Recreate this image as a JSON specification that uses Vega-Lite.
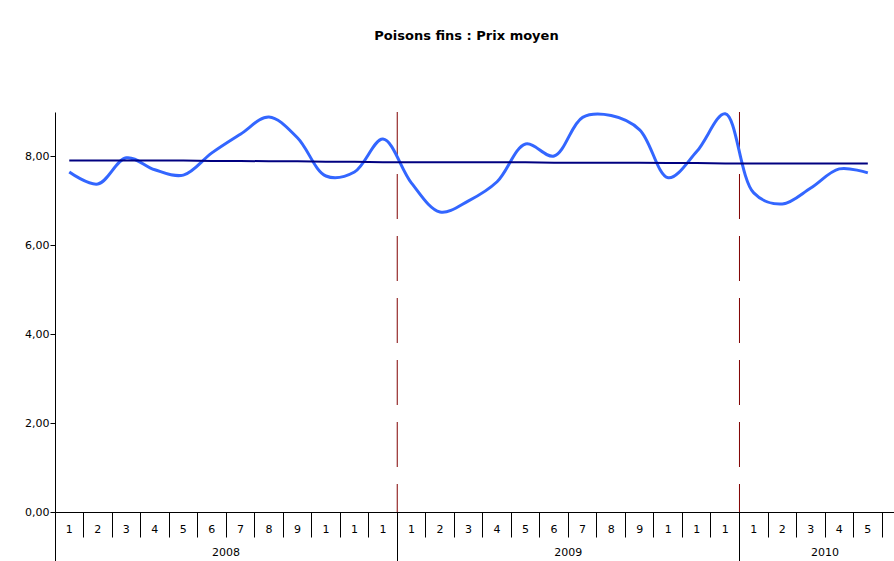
{
  "$schema": "https://vega.github.io/schema/vega-lite/v6.json",
  "width": 839,
  "height": 400,
  "autosize": {"type": "none"},
  "padding": {"left": 55, "top": 112, "right": 0, "bottom": 49},
  "background": "white",
  "title": {"text": "Poisons fins : Prix moyen", "fontSize": 13, "font": "DejaVu Sans", "fontWeight": "bold", "color": "#000000", "offset": 65, "dx": -8, "anchor": "middle"},
  "config": {
    "view": {"stroke": null},
    "axis": {"labelFont": "DejaVu Sans", "labelFontSize": 11, "labelColor": "#000000", "domainColor": "#000000", "tickColor": "#000000", "grid": false, "title": null}
  },
  "datasets": {
    "prices": [
      {"m": "2008-1", "price": 7.65, "trend": 7.91},
      {"m": "2008-2", "price": 7.38, "trend": 7.91},
      {"m": "2008-3", "price": 7.97, "trend": 7.91},
      {"m": "2008-4", "price": 7.70, "trend": 7.91},
      {"m": "2008-5", "price": 7.58, "trend": 7.91},
      {"m": "2008-6", "price": 8.08, "trend": 7.90},
      {"m": "2008-7", "price": 8.50, "trend": 7.90},
      {"m": "2008-8", "price": 8.89, "trend": 7.89},
      {"m": "2008-9", "price": 8.42, "trend": 7.89},
      {"m": "2008-10", "price": 7.56, "trend": 7.88},
      {"m": "2008-11", "price": 7.65, "trend": 7.88},
      {"m": "2008-12", "price": 8.39, "trend": 7.87},
      {"m": "2009-1", "price": 7.40, "trend": 7.87},
      {"m": "2009-2", "price": 6.75, "trend": 7.87},
      {"m": "2009-3", "price": 7.00, "trend": 7.87},
      {"m": "2009-4", "price": 7.43, "trend": 7.87},
      {"m": "2009-5", "price": 8.28, "trend": 7.87},
      {"m": "2009-6", "price": 8.01, "trend": 7.86},
      {"m": "2009-7", "price": 8.88, "trend": 7.86},
      {"m": "2009-8", "price": 8.92, "trend": 7.86},
      {"m": "2009-9", "price": 8.60, "trend": 7.86},
      {"m": "2009-10", "price": 7.52, "trend": 7.85},
      {"m": "2009-11", "price": 8.11, "trend": 7.85},
      {"m": "2009-12", "price": 8.96, "trend": 7.84},
      {"m": "2010-1", "price": 7.18, "trend": 7.84},
      {"m": "2010-2", "price": 6.93, "trend": 7.84},
      {"m": "2010-3", "price": 7.29, "trend": 7.84},
      {"m": "2010-4", "price": 7.72, "trend": 7.84},
      {"m": "2010-5", "price": 7.63, "trend": 7.84}
    ],
    "years": [{"m": "2009-1"}, {"m": "2010-1"}]
  },
  "layer": [
    {
      "data": {"name": "years"},
      "mark": {"type": "rule", "color": "#800000", "strokeWidth": 1, "strokeDash": [45, 17]},
      "encoding": {
        "x": {
          "field": "m", "type": "ordinal", "bandPosition": 0,
          "scale": {"type": "band", "domain": ["2008-1","2008-2","2008-3","2008-4","2008-5","2008-6","2008-7","2008-8","2008-9","2008-10","2008-11","2008-12","2009-1","2009-2","2009-3","2009-4","2009-5","2009-6","2009-7","2009-8","2009-9","2009-10","2009-11","2009-12","2010-1","2010-2","2010-3","2010-4","2010-5","2010-6"], "range": [0, 855.6], "paddingInner": 0, "paddingOuter": 0},
          "axis": {"orient": "bottom", "values": ["2008-1", "2009-1", "2010-1"], "bandPosition": 0, "tickSize": 50, "labels": false, "domain": false, "ticks": true, "tickColor": "#000000"}
        },
        "y": {"datum": 9, "type": "quantitative", "scale": {"domain": [0, 9], "nice": false, "zero": true},
          "axis": {"values": [0, 2, 4, 6, 8], "tickSize": 5, "labelPadding": 1, "labelExpr": "replace(format(datum.value, '.2f'), '.', ',')"}},
        "y2": {"datum": 0}
      }
    },
    {
      "data": {"name": "prices"},
      "mark": {"type": "line", "color": "#3366FF", "strokeWidth": 3, "interpolate": "catmull-rom"},
      "encoding": {
        "x": {
          "field": "m", "type": "ordinal", "bandPosition": 0.5,
          "scale": {"type": "band", "domain": ["2008-1","2008-2","2008-3","2008-4","2008-5","2008-6","2008-7","2008-8","2008-9","2008-10","2008-11","2008-12","2009-1","2009-2","2009-3","2009-4","2009-5","2009-6","2009-7","2009-8","2009-9","2009-10","2009-11","2009-12","2010-1","2010-2","2010-3","2010-4","2010-5","2010-6"], "range": [0, 855.6], "paddingInner": 0, "paddingOuter": 0},
          "axis": {"orient": "bottom", "bandPosition": 0, "tickSize": 25, "labelPadding": -14, "labelAngle": 0, "labelAlign": "center", "labelBaseline": "top", "labelExpr": "datum.value == '2010-6' ? '' : substring(split(datum.value, '-')[1], 0, 1)", "domain": true}
        },
        "y": {"field": "price", "type": "quantitative", "scale": {"domain": [0, 9], "nice": false, "zero": true},
          "axis": {"values": [0, 2, 4, 6, 8], "tickSize": 5, "labelPadding": 1, "labelExpr": "replace(format(datum.value, '.2f'), '.', ',')"}}
      }
    },
    {
      "data": {"name": "prices"},
      "mark": {"type": "line", "color": "#000080", "strokeWidth": 2},
      "encoding": {
        "x": {
          "field": "m", "type": "ordinal", "bandPosition": 0.5,
          "scale": {"type": "band", "domain": ["2008-1","2008-2","2008-3","2008-4","2008-5","2008-6","2008-7","2008-8","2008-9","2008-10","2008-11","2008-12","2009-1","2009-2","2009-3","2009-4","2009-5","2009-6","2009-7","2009-8","2009-9","2009-10","2009-11","2009-12","2010-1","2010-2","2010-3","2010-4","2010-5","2010-6"], "range": [0, 855.6], "paddingInner": 0, "paddingOuter": 0},
          "axis": {"orient": "bottom", "values": ["2008-7", "2009-7", "2010-4"], "bandPosition": 0, "ticks": false, "domain": false, "labelPadding": 34, "labelOffset": -14.26, "labelAngle": 0, "labelAlign": "center", "labelBaseline": "top", "labelExpr": "split(datum.value, '-')[0]"}
        },
        "y": {"field": "trend", "type": "quantitative", "scale": {"domain": [0, 9], "nice": false, "zero": true},
          "axis": {"values": [0, 2, 4, 6, 8], "tickSize": 5, "labelPadding": 1, "labelExpr": "replace(format(datum.value, '.2f'), '.', ',')"}}
      }
    }
  ],
  "resolve": {"axis": {"x": "independent"}}
}
